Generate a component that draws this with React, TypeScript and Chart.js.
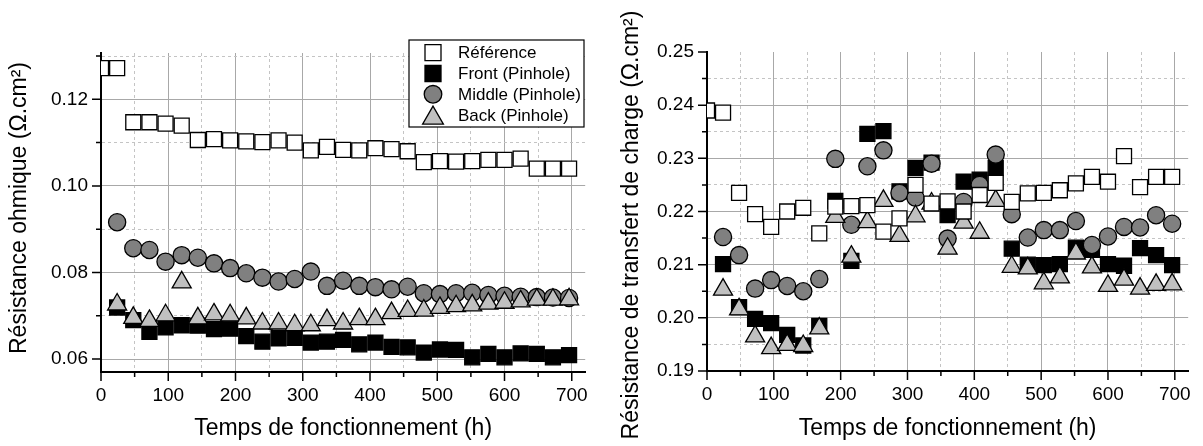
import React, { useEffect, useRef } from 'react';
import { Chart, registerables } from 'chart.js';

Chart.register(...registerables);

const FONT = '"Liberation Sans", Arial, Helvetica, sans-serif';

// ---------- data ----------
const hoursRef = [0, 24, 48, 72, 96, 120, 144, 168, 192, 216, 240, 264, 288, 312, 336, 360, 384, 408, 432, 456, 480, 504, 528, 552, 576, 600, 624, 648, 672, 696];
const hoursPin = [24, 48, 72, 96, 120, 144, 168, 192, 216, 240, 264, 288, 312, 336, 360, 384, 408, 432, 456, 480, 504, 528, 552, 576, 600, 624, 648, 672, 696];

const seriesLabels = ['Référence', 'Front (Pinhole)', 'Middle (Pinhole)', 'Back (Pinhole)'];

// Résistance ohmique (left panel)
const ohmRef = [0.1272, 0.1272, 0.1147, 0.1147, 0.1144, 0.1139, 0.1106, 0.1108, 0.1105, 0.1103, 0.1101, 0.1105, 0.1100, 0.1082, 0.1090, 0.1083, 0.1082, 0.1087, 0.1085, 0.1080, 0.1055, 0.1057, 0.1056, 0.1057, 0.1060, 0.1060, 0.1063, 0.1040, 0.1040, 0.1040];
const ohmFront = [0.0719, 0.0690, 0.0663, 0.0673, 0.0678, 0.0677, 0.0669, 0.0670, 0.0653, 0.0640, 0.0648, 0.0649, 0.0638, 0.0640, 0.0644, 0.0634, 0.0638, 0.0628, 0.0627, 0.0615, 0.0622, 0.0621, 0.0604, 0.0612, 0.0604, 0.0613, 0.0612, 0.0604, 0.0609];
const ohmMiddle = [0.0916, 0.0856, 0.0852, 0.0825, 0.0840, 0.0834, 0.0821, 0.0810, 0.0798, 0.0788, 0.0779, 0.0785, 0.0802, 0.0769, 0.0781, 0.0769, 0.0766, 0.0761, 0.0767, 0.0752, 0.0750, 0.0752, 0.0753, 0.0748, 0.0746, 0.0744, 0.0743, 0.0742, 0.0741];
const ohmBack = [0.0726, 0.0695, 0.0688, 0.0701, 0.0777, 0.0694, 0.0703, 0.0701, 0.0694, 0.0682, 0.0682, 0.0678, 0.0678, 0.0690, 0.0682, 0.0692, 0.0692, 0.0706, 0.0711, 0.0712, 0.0718, 0.0722, 0.0724, 0.0728, 0.0730, 0.0733, 0.0737, 0.0737, 0.0738];

// Résistance de transfert de charge (right panel)
const tcRef = [0.2390, 0.2386, 0.2235, 0.2195, 0.2171, 0.2200, 0.2207, 0.2159, 0.2209, 0.2210, 0.2212, 0.2162, 0.2187, 0.2250, 0.2215, 0.2219, 0.2200, 0.2231, 0.2254, 0.2218, 0.2234, 0.2235, 0.2240, 0.2253, 0.2265, 0.2256, 0.2304, 0.2246, 0.2265, 0.2265];
const tcFront = [0.2101, 0.2020, 0.1998, 0.1990, 0.1968, 0.1948, 0.1985, 0.2220, 0.2107, 0.2346, 0.2351, 0.2238, 0.2282, 0.2292, 0.2193, 0.2256, 0.2260, 0.2282, 0.2130, 0.2100, 0.2099, 0.2101, 0.2132, 0.2128, 0.2101, 0.2098, 0.2131, 0.2118, 0.2099];
const tcMiddle = [0.2152, 0.2118, 0.2055, 0.2071, 0.2060, 0.2050, 0.2073, 0.2299, 0.2175, 0.2285, 0.2315, 0.2235, 0.2226, 0.2290, 0.2149, 0.2218, 0.2250, 0.2307, 0.2195, 0.2151, 0.2165, 0.2165, 0.2182, 0.2137, 0.2153, 0.2171, 0.2170, 0.2193, 0.2177];
const tcBack = [0.2053, 0.2016, 0.1965, 0.1943, 0.1949, 0.1947, 0.1980, 0.2190, 0.2115, 0.2180, 0.2220, 0.2154, 0.2191, 0.2215, 0.2130, 0.2179, 0.2160, 0.2220, 0.2096, 0.2093, 0.2065, 0.2076, 0.2121, 0.2095, 0.2060, 0.2072, 0.2055, 0.2062, 0.2063];

// ticks
const xTicks = [0, 50, 100, 150, 200, 250, 300, 350, 400, 450, 500, 550, 600, 650, 700];
const ohmTicks = [0.06, 0.07, 0.08, 0.09, 0.10, 0.11, 0.12, 0.13];
const tcTicks = [0.19, 0.195, 0.2, 0.205, 0.21, 0.215, 0.22, 0.225, 0.23, 0.235, 0.24, 0.245, 0.25];

const xTitle = 'Temps de fonctionnement (h)';
const ohmTitle = 'Résistance ohmique (Ω.cm²)';
const tcTitle = 'Résistance de transfert de charge (Ω.cm²)';

// ---------- styles ----------
const seriesStyles = [
  { pointStyle: 'rect', radius: 10.6, fill: '#ffffff', order: 0 },
  { pointStyle: 'rect', radius: 10.6, fill: '#000000', order: 3 },
  { pointStyle: 'circle', radius: 8.6, fill: '#808080', order: 2 },
  { pointStyle: 'triangle', radius: 11, fill: '#c0c0c0', order: 1 },
];

const GRID_SOLID = '#a8a8a8';
const GRID_DASH = '#c4c4c4';

const isMultiple = (v: number, step: number) => Math.abs(v / step - Math.round(v / step)) < 1e-6;

const tickMarksPlugin = {
  id: 'tickMarks',
  afterDraw(chart: any, _args: any, opts: any) {
    const { ctx, chartArea } = chart;
    const xs = chart.scales.x;
    const ys = chart.scales.y;
    ctx.save();
    ctx.strokeStyle = '#000';
    ctx.lineWidth = 1.5;
    ctx.beginPath();
    xs.ticks.forEach((t: any) => {
      const px = xs.getPixelForValue(t.value);
      const len = isMultiple(t.value, opts.xMajor) ? 9 : 5;
      ctx.moveTo(px, chartArea.bottom);
      ctx.lineTo(px, chartArea.bottom + len);
    });
    ys.ticks.forEach((t: any) => {
      const py = ys.getPixelForValue(t.value);
      const len = isMultiple(t.value, opts.yMajor) ? 9 : 5;
      ctx.moveTo(chartArea.left, py);
      ctx.lineTo(chartArea.left - len, py);
    });
    ctx.stroke();
    ctx.restore();
  },
};

const yTitlePlugin = {
  id: 'yTitle',
  afterDraw(chart: any, _args: any, opts: any) {
    const ctx = chart.ctx;
    ctx.save();
    ctx.translate(opts.x, opts.y);
    ctx.rotate(-Math.PI / 2);
    ctx.font = `${opts.size}px ${FONT}`;
    ctx.fillStyle = '#000';
    ctx.textAlign = 'center';
    ctx.textBaseline = 'middle';
    ctx.fillText(opts.text, 0, 0);
    ctx.restore();
  },
};

const boxLegendPlugin = {
  id: 'boxLegend',
  afterDraw(chart: any, _args: any, opts: any) {
    if (!opts.show) return;
    const ctx = chart.ctx;
    ctx.save();
    ctx.fillStyle = '#ffffff';
    ctx.fillRect(opts.left, opts.top, opts.width, opts.height);
    ctx.strokeStyle = '#000';
    ctx.lineWidth = 1.2;
    ctx.strokeRect(opts.left, opts.top, opts.width, opts.height);
    chart.data.datasets.forEach((ds: any, i: number) => {
      const cy = opts.top + opts.firstRow + i * opts.rowGap;
      const cx = opts.markerX;
      ctx.fillStyle = ds.pointBackgroundColor;
      ctx.strokeStyle = '#000';
      ctx.lineWidth = 1.3;
      ctx.beginPath();
      if (ds.pointStyle === 'rect') {
        const s = 8;
        ctx.rect(cx - s, cy - s, 2 * s, 2 * s);
      } else if (ds.pointStyle === 'circle') {
        ctx.arc(cx, cy, 8.8, 0, Math.PI * 2);
      } else {
        const r = 12;
        const c = cy + r / 4;
        ctx.moveTo(cx, c - r);
        ctx.lineTo(cx + r * 0.866, c + r / 2);
        ctx.lineTo(cx - r * 0.866, c + r / 2);
        ctx.closePath();
      }
      ctx.fill();
      ctx.stroke();
      ctx.fillStyle = '#000';
      ctx.font = `${opts.fontSize}px ${FONT}`;
      ctx.textAlign = 'left';
      ctx.textBaseline = 'middle';
      ctx.fillText(ds.label, opts.textX, cy + 1);
    });
    ctx.restore();
  },
};

type PanelParams = {
  ys: number[][];
  yTicks: number[];
  yMin: number;
  yMax: number;
  yMajor: number;
  yWidth: number;
  xHeight: number;
  padTop: number;
  padRight: number;
  yTitleText: string;
  yTitleX: number;
  yTitleY: number;
  legend: boolean;
};

function makeConfig(p: PanelParams): any {
  const xsFor = [hoursRef, hoursPin, hoursPin, hoursPin];
  return {
    type: 'scatter',
    data: {
      datasets: p.ys.map((vals, i) => ({
        label: seriesLabels[i],
        data: xsFor[i].map((h, j) => ({ x: h, y: vals[j] })),
        pointStyle: seriesStyles[i].pointStyle,
        pointRadius: seriesStyles[i].radius,
        pointHoverRadius: seriesStyles[i].radius,
        pointBackgroundColor: seriesStyles[i].fill,
        pointBorderColor: '#000000',
        pointBorderWidth: 1.3,
        showLine: false,
        order: seriesStyles[i].order,
        clip: { left: 0, top: false, right: false, bottom: false },
      })),
    },
    options: {
      responsive: false,
      animation: false,
      devicePixelRatio: 1,
      events: [],
      layout: { padding: { top: p.padTop, right: p.padRight, left: 0, bottom: 0 } },
      plugins: {
        legend: { display: false },
        tooltip: { enabled: false },
        tickMarks: { xMajor: 100, yMajor: p.yMajor },
        yTitle: { text: p.yTitleText, x: p.yTitleX, y: p.yTitleY, size: 23 },
        boxLegend: {
          show: p.legend,
          left: 409,
          top: 40,
          width: 175,
          height: 87,
          firstRow: 12.7,
          rowGap: 20.8,
          markerX: 433,
          textX: 458,
          fontSize: 17,
        },
      },
      scales: {
        x: {
          type: 'linear',
          min: 0,
          max: 720,
          afterBuildTicks: (scale: any) => {
            scale.ticks = xTicks.map((v) => ({ value: v }));
          },
          afterFit: (scale: any) => {
            scale.height = p.xHeight;
          },
          ticks: {
            autoSkip: false,
            maxRotation: 0,
            padding: 12,
            color: '#000',
            font: { family: FONT, size: 19 },
            callback: (v: any) => (isMultiple(Number(v), 100) ? String(v) : ''),
          },
          grid: {
            drawTicks: false,
            lineWidth: 1,
            color: (c: any) => (c.tick && isMultiple(c.tick.value, 100) ? GRID_SOLID : GRID_DASH),
          },
          border: {
            display: true,
            color: '#000',
            width: 2,
            dash: (c: any) => (c.tick && !isMultiple(c.tick.value, 100) ? [3, 3] : []),
          },
          title: {
            display: true,
            text: xTitle,
            color: '#000',
            font: { family: FONT, size: 23 },
            padding: { top: 0, bottom: 4 },
          },
        },
        y: {
          type: 'linear',
          min: p.yMin,
          max: p.yMax,
          afterBuildTicks: (scale: any) => {
            scale.ticks = p.yTicks.map((v) => ({ value: v }));
          },
          afterFit: (scale: any) => {
            scale.width = p.yWidth;
          },
          ticks: {
            autoSkip: false,
            padding: 13,
            color: '#000',
            font: { family: FONT, size: 19 },
            callback: (v: any) => (isMultiple(Number(v), p.yMajor) ? Number(v).toFixed(2) : ''),
          },
          grid: {
            drawTicks: false,
            lineWidth: 1,
            color: (c: any) => {
              if (!c.tick) return GRID_SOLID;
              if (c.tick.value >= p.yMax - 1e-9) return 'rgba(0,0,0,0)';
              return isMultiple(c.tick.value, p.yMajor) ? GRID_SOLID : GRID_DASH;
            },
          },
          border: {
            display: true,
            color: '#000',
            width: 2,
            dash: (c: any) => (c.tick && !isMultiple(c.tick.value, p.yMajor) ? [3, 3] : []),
          },
        },
      },
    },
    plugins: [tickMarksPlugin, yTitlePlugin, boxLegendPlugin],
  };
}

function Panel({ params, left, width }: { params: PanelParams; left: number; width: number }) {
  const ref = useRef<HTMLCanvasElement | null>(null);
  useEffect(() => {
    if (!ref.current) return;
    const chart = new Chart(ref.current, makeConfig(params));
    return () => chart.destroy();
  }, []);
  return (
    <canvas
      ref={ref}
      width={width}
      height={446}
      style={{ position: 'absolute', left, top: 0, width, height: 446 }}
    />
  );
}

const leftParams: PanelParams = {
  ys: [ohmRef, ohmFront, ohmMiddle, ohmBack],
  yTicks: ohmTicks,
  yMin: 0.057,
  yMax: 0.1307,
  yMajor: 0.02,
  yWidth: 101,
  xHeight: 74,
  padTop: 53,
  padRight: 14,
  yTitleText: ohmTitle,
  yTitleX: 20,
  yTitleY: 208,
  legend: true,
};

const rightParams: PanelParams = {
  ys: [tcRef, tcFront, tcMiddle, tcBack],
  yTicks: tcTicks,
  yMin: 0.19,
  yMax: 0.25,
  yMajor: 0.01,
  yWidth: 107,
  xHeight: 75,
  padTop: 52,
  padRight: 11,
  yTitleText: tcTitle,
  yTitleX: 32,
  yTitleY: 225,
  legend: false,
};

export default function App() {
  return (
    <div style={{ position: 'absolute', left: 0, top: 0, width: 1203, height: 446, background: '#fff', overflow: 'hidden' }}>
      <Panel params={leftParams} left={0} width={600} />
      <Panel params={rightParams} left={600} width={603} />
    </div>
  );
}
